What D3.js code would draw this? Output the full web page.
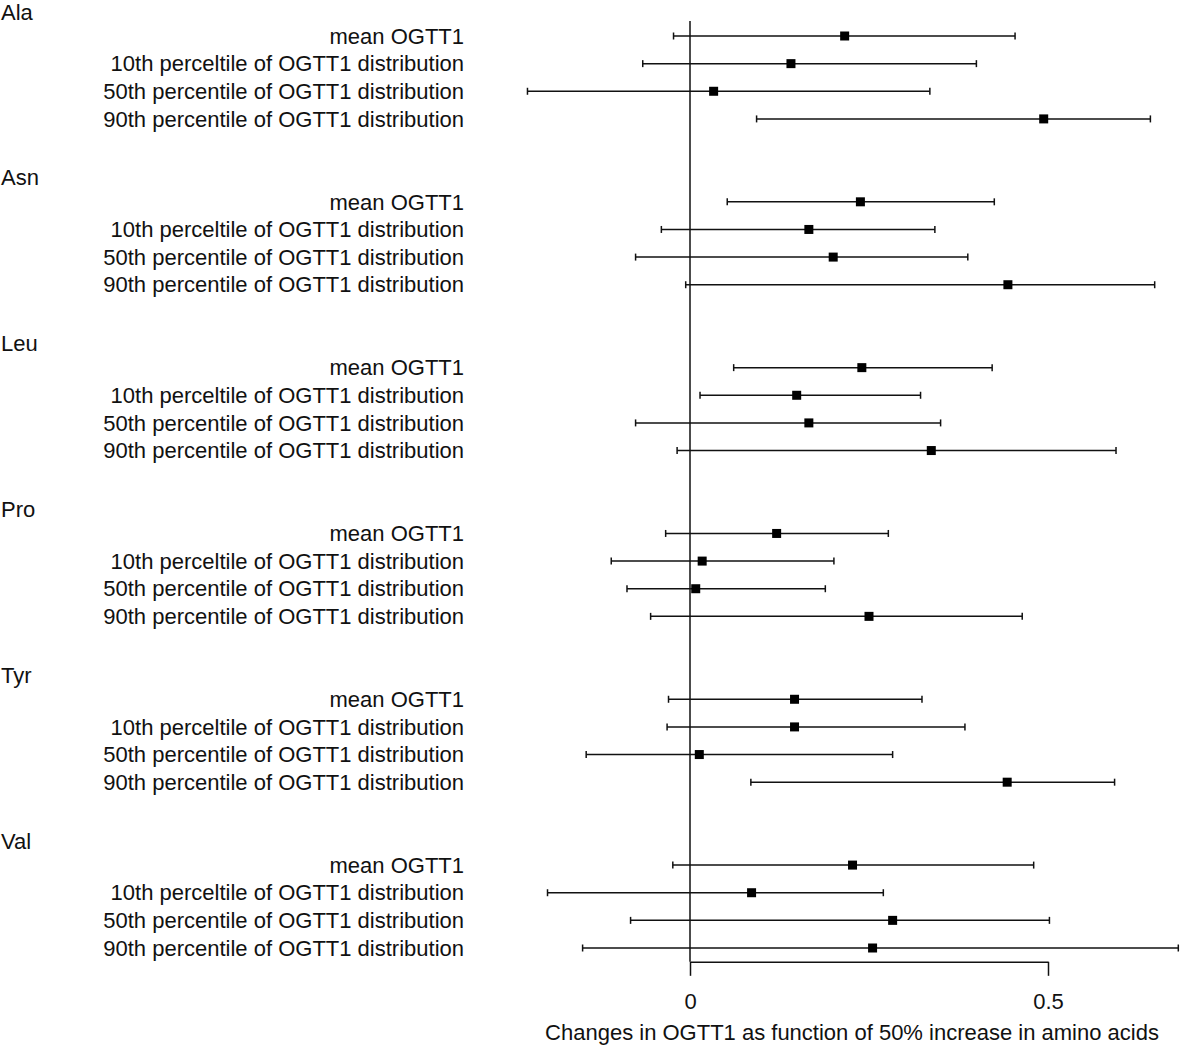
<!DOCTYPE html>
<html>
<head>
<meta charset="utf-8">
<script src="https://d3js.org/d3.v7.min.js"></script>
<style>
body{margin:0;background:#fff;}
text{font-family:"Liberation Sans",Arial,sans-serif;fill:#111;}
</style>
</head>
<body>
<script>
var width = 1181, height = 1046;
var acids = ["Ala","Asn","Leu","Pro","Tyr","Val"];
var measures = ["mean OGTT1",
"10th perceltile of OGTT1 distribution",
"50th percentile of OGTT1 distribution",
"90th percentile of OGTT1 distribution"];
// estimates, one row per amino acid, in the order of measures
var est = [[0.216,0.141,0.033,0.494],
[0.238,0.166,0.200,0.444],
[0.240,0.149,0.166,0.337],
[0.121,0.017,0.008,0.250],
[0.146,0.146,0.013,0.443],
[0.227,0.086,0.283,0.255]];
var lower = [[-0.023,-0.066,-0.227,0.093],
[0.052,-0.040,-0.076,-0.006],
[0.061,0.014,-0.076,-0.018],
[-0.034,-0.110,-0.088,-0.055],
[-0.030,-0.032,-0.145,0.085],
[-0.024,-0.199,-0.083,-0.150]];
var upper = [[0.454,0.400,0.335,0.643],
[0.425,0.342,0.388,0.649],
[0.422,0.322,0.350,0.595],
[0.277,0.201,0.189,0.464],
[0.324,0.384,0.283,0.593],
[0.480,0.270,0.502,0.682]];
var xTicks = [0, 0.5];
var xTitle = "Changes in OGTT1 as function of 50% increase in amino acids";

var rows = [];
acids.forEach(function(a, g){
  measures.forEach(function(m, k){
    rows.push({acid:a, label:m, slot:g*6+k+1, est:est[g][k], lo:lower[g][k], hi:upper[g][k]});
  });
});

var svg = d3.select("body").append("svg")
.attr("width",width).attr("height",height);

var x = d3.scaleLinear().domain([0,0.5]).range([690,1048]);
var y = d3.scaleLinear().domain([1,34]).range([36,948]);

// reference line at zero
svg.append("line")
.attr("x1",x(0)).attr("x2",x(0))
.attr("y1",21).attr("y2",y(34.5))
.attr("stroke","#111").attr("stroke-width",1.5);

// group headers
svg.selectAll(".hdr").data(acids).enter().append("text")
.attr("x",1).attr("y",function(d,i){return y(i*6)+3.5;})
.attr("dy","0.35em")
.style("font-size","22px")
.text(function(d){return d;});

// row labels
svg.selectAll(".lab").data(rows).enter().append("text")
.attr("x",464).attr("y",function(d){return y(d.slot);})
.attr("dy","0.35em")
.attr("text-anchor","end")
.style("font-size","22px")
.text(function(d){return d.label;});

var bars = svg.append("g").attr("stroke","#111").attr("stroke-width",1.5);
bars.selectAll(".ci").data(rows).enter().append("line")
.attr("x1",function(d){return x(d.lo);})
.attr("x2",function(d){return x(d.hi);})
.attr("y1",function(d){return y(d.slot);})
.attr("y2",function(d){return y(d.slot);});
bars.selectAll(".capl").data(rows).enter().append("line")
.attr("x1",function(d){return x(d.lo);})
.attr("x2",function(d){return x(d.lo);})
.attr("y1",function(d){return y(d.slot)-3.5;})
.attr("y2",function(d){return y(d.slot)+3.5;});
bars.selectAll(".caph").data(rows).enter().append("line")
.attr("x1",function(d){return x(d.hi);})
.attr("x2",function(d){return x(d.hi);})
.attr("y1",function(d){return y(d.slot)-3.5;})
.attr("y2",function(d){return y(d.slot)+3.5;});

svg.selectAll(".pt").data(rows).enter().append("rect")
.attr("x",function(d){return x(d.est)-4.5;})
.attr("y",function(d){return y(d.slot)-4.5;})
.attr("width",9).attr("height",9)
.attr("fill","#000");

// x axis
var xaxis = d3.axisBottom(x).tickValues(xTicks).tickSize(14).tickSizeOuter(0)
.tickFormat(function(d){return d===0?"0":String(d);});
var ax = svg.append("g").attr("transform","translate(0,"+y(34.5)+")").call(xaxis);
ax.select(".domain").attr("stroke","#111").attr("stroke-width",1.5);
ax.selectAll(".tick line").attr("stroke","#111").attr("stroke-width",1.5);
ax.selectAll(".tick text").attr("y",39).attr("dy","0.35em")
.style("font-size","22px").style("font-family","Liberation Sans, Arial, sans-serif").attr("fill","#111");

svg.append("text")
.attr("x",852).attr("y",1032).attr("dy","0.35em")
.attr("text-anchor","middle")
.style("font-size","22px")
.text(xTitle);
</script>
</body>
</html>
